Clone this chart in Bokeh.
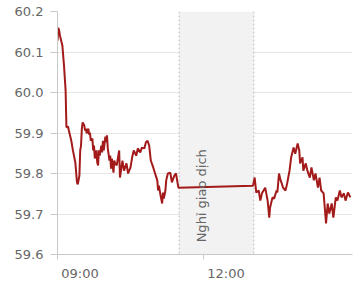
import math
import pandas as pd
from bokeh.plotting import figure
from bokeh.models import (Range1d, FixedTicker, BoxAnnotation, Span, Label,
                          NumeralTickFormatter)
from bokeh.embed import file_html
from bokeh.resources import INLINE

DAY = "2024-01-02 "

times = [
    "09:00", "09:01", "09:02", "09:03", "09:06", "09:08", "09:10", "09:11", "09:13", "09:14",
    "09:17", "09:19", "09:22", "09:23", "09:24", "09:25", "09:27", "09:28", "09:29", "09:30",
    "09:31", "09:33", "09:34", "09:35", "09:36", "09:38", "09:39", "09:40", "09:41", "09:43",
    "09:44", "09:45", "09:46", "09:48", "09:49", "09:50", "09:51", "09:52", "09:54", "09:55",
    "09:56", "09:57", "09:59", "10:00", "10:01", "10:02", "10:04", "10:05", "10:06", "10:07",
    "10:09", "10:10", "10:11", "10:13", "10:16", "10:17", "10:20", "10:22", "10:25", "10:27",
    "10:30", "10:32", "10:34", "10:37", "10:39", "10:42", "10:44", "10:47", "10:49", "10:51",
    "10:53", "10:55", "10:58", "11:00", "11:03", "11:04", "11:05", "11:07", "11:09", "11:10",
    "11:11", "11:13", "11:14", "11:16", "11:19", "11:21", "11:24", "11:26", "11:29",
    "13:01", "13:03", "13:05", "13:08", "13:10", "13:12", "13:14", "13:16", "13:19", "13:21",
    "13:22", "13:25", "13:27", "13:30", "13:31", "13:33", "13:35", "13:36", "13:38", "13:41",
    "13:43", "13:46", "13:48", "13:51", "13:53", "13:56", "13:58", "13:59", "14:02", "14:03",
    "14:06", "14:08", "14:11", "14:13", "14:16", "14:18", "14:21", "14:23", "14:25", "14:28",
    "14:29", "14:31", "14:33", "14:35", "14:38", "14:40", "14:43", "14:45", "14:48", "14:50",
    "14:53", "14:55", "14:58", "15:01",
]
prices = [
    60.128, 60.160, 60.153, 60.141, 60.116, 60.067, 60.005, 59.914, 59.916, 59.906,
    59.881, 59.857, 59.827, 59.802, 59.778, 59.773, 59.795, 59.857, 59.869, 59.911,
    59.926, 59.919, 59.906, 59.911, 59.899, 59.911, 59.896, 59.901, 59.881, 59.886,
    59.857, 59.869, 59.837, 59.857, 59.827, 59.820, 59.857, 59.844, 59.869, 59.852,
    59.881, 59.857, 59.891, 59.877, 59.894, 59.862, 59.832, 59.844, 59.812, 59.837,
    59.802, 59.832, 59.825, 59.820, 59.857, 59.790, 59.832, 59.807, 59.825, 59.800,
    59.815, 59.840, 59.857, 59.844, 59.862, 59.852, 59.864, 59.862, 59.877, 59.881,
    59.869, 59.832, 59.815, 59.802, 59.783, 59.758, 59.770, 59.746, 59.726, 59.753,
    59.738, 59.758, 59.783, 59.800, 59.802, 59.778, 59.795, 59.800, 59.765,
    59.770, 59.790, 59.753, 59.758, 59.733, 59.751, 59.758, 59.765, 59.733, 59.691,
    59.716, 59.741, 59.738, 59.758, 59.753, 59.800, 59.783, 59.778, 59.765, 59.758,
    59.775, 59.807, 59.840, 59.864, 59.849, 59.874, 59.857, 59.825, 59.840, 59.807,
    59.825, 59.807, 59.790, 59.815, 59.783, 59.800, 59.765, 59.790, 59.758, 59.751,
    59.726, 59.677, 59.726, 59.701, 59.726, 59.691, 59.741, 59.733, 59.758, 59.741,
    59.751, 59.733, 59.753, 59.741,
]
y_ticks = [59.6, 59.7, 59.8, 59.9, 60.0, 60.1, 60.2]
x_tick_labels = ["09:00", "12:00"]
x_start, x_end = "09:00", "15:03:36"
break_start, break_end = "11:30", "13:02"
break_label = "Nghỉ giao dịch"

W, H = 357, 297
BL, BR, BT, BB = 57, 5, 11, 43
LABEL_SHIFT_PX = 22.5


def ts(t):
    return pd.Timestamp(DAY + t)


def ms(t):
    return ts(t).value / 1e6


x = [ts(t) for t in times]

p = figure(width=W, height=H, x_axis_type="datetime",
           output_backend="svg", toolbar_location=None,
           x_range=Range1d(ts(x_start), ts(x_end)),
           y_range=Range1d(59.6, 60.2),
           min_border_left=BL, min_border_right=BR,
           min_border_top=BT, min_border_bottom=BB)
p.outline_line_color = None
p.background_fill_color = "white"
p.border_fill_color = "white"

# break band
p.add_layout(BoxAnnotation(left=ms(break_start), right=ms(break_end),
                           fill_color="#f2f2f2", fill_alpha=1.0,
                           line_color=None, level="underlay"))
for b in (break_start, break_end):
    p.add_layout(Span(location=ms(b), dimension="height", line_color="#c0c0c0",
                      line_width=1, line_dash="2 2", level="underlay"))

# grid
p.xgrid.grid_line_color = None
p.ygrid.grid_line_color = "#e6e6e6"
p.ygrid.grid_line_width = 1
p.ygrid.level = "underlay"

p.line(x, prices, line_color="#a31a1a", line_width=2)

# y axis
p.yaxis.ticker = FixedTicker(ticks=y_ticks)
p.yaxis.formatter = NumeralTickFormatter(format="0.0")
p.yaxis.axis_line_color = "#c8c8c8"
p.yaxis.major_tick_line_color = "#c8c8c8"
p.yaxis.major_tick_out = 7
p.yaxis.major_tick_in = 0
p.yaxis.minor_tick_line_color = None
p.yaxis.major_label_standoff = 7
p.yaxis.major_label_text_font = "DejaVu Sans"
p.yaxis.major_label_text_font_size = "13px"
p.yaxis.major_label_text_color = "#666666"

# x axis: tick marks drawn as "minor" ticks at the true times,
# labels drawn at "major" positions shifted right of the tick marks
frame_w = W - BL - BR
ms_per_px = (ms(x_end) - ms(x_start)) / frame_w
shift = LABEL_SHIFT_PX * ms_per_px
tick_pos = [ms(t) for t in x_tick_labels]
label_pos = [tp + shift for tp in tick_pos]
p.xaxis.ticker = FixedTicker(ticks=label_pos, minor_ticks=tick_pos)
p.xaxis.major_label_overrides = {lp: t for lp, t in zip(label_pos, x_tick_labels)}
p.xaxis.axis_line_color = "#c8c8c8"
p.xaxis.major_tick_line_color = None
p.xaxis.minor_tick_line_color = "#c8c8c8"
p.xaxis.minor_tick_out = 5
p.xaxis.minor_tick_in = 0
p.xaxis.major_tick_out = 5
p.xaxis.major_tick_in = 0
p.xaxis.major_label_standoff = 6
p.xaxis.major_label_text_font = "DejaVu Sans"
p.xaxis.major_label_text_font_size = "13px"
p.xaxis.major_label_text_color = "#666666"

p.add_layout(Label(x=ms(break_start), y=59.630, text=break_label, x_offset=22,
                   angle=math.pi / 2, text_align="left", text_baseline="middle",
                   text_font="DejaVu Sans", text_font_size="13px",
                   text_color="#666666"))

open("out.html", "w").write(file_html(p, INLINE))
